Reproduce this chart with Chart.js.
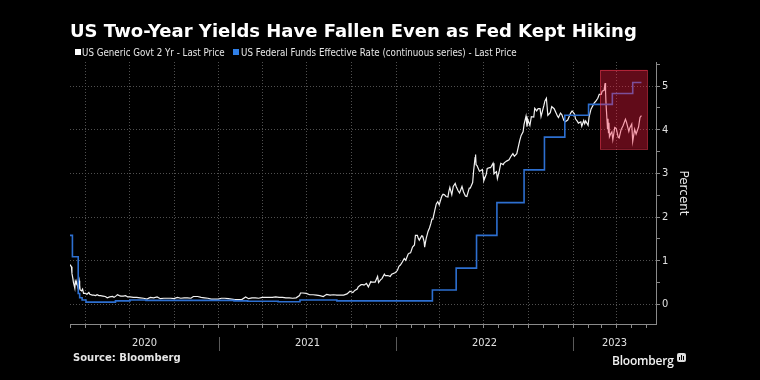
<!DOCTYPE html>
<html>
<head>
<meta charset="utf-8">
<script src="https://cdn.jsdelivr.net/npm/chart.js@4.4.0/dist/chart.umd.min.js"></script>
<style>
  html, body { margin: 0; padding: 0; background: #000; }
  #wrap { position: relative; width: 760px; height: 380px; background: #000; overflow: hidden; }
  #c { position: absolute; left: 0; top: 0; }
  .txt { position: absolute; color: #fff; white-space: nowrap; line-height: 1; }
  #title { left: 70px; top: 20px; font: bold 18px "DejaVu Sans", sans-serif; }
  .leg { top: 47px; font: 9.7px "DejaVu Sans Condensed", "DejaVu Sans", sans-serif; font-stretch: condensed; color: #e6e6e6; }
  .sq { position: absolute; top: 49px; width: 6px; height: 6px; }
  #source { left: 73px; top: 352px; font: bold 10px "DejaVu Sans", sans-serif; color: #e6e6e6; }
  #logo { left: 612px; top: 352px; font: 600 12px "Open Sans", "DejaVu Sans", sans-serif; color: #f2f2f2; letter-spacing: -0.2px; }
  #icon { position: absolute; left: 677px; top: 353px; width: 9px; height: 9px; background: #ddd; border-radius: 2px; }
  #icon span { position: absolute; bottom: 2px; width: 1px; background: #000; }
</style>
</head>
<body>
<div id="wrap">
  <canvas id="c" width="760" height="380"></canvas>
  <div id="title" class="txt">US Two-Year Yields Have Fallen Even as Fed Kept Hiking</div>
  <div class="sq" style="left:75px;background:#ffffff"></div>
  <div class="txt leg" style="left:82px">US Generic Govt 2 Yr - Last Price</div>
  <div class="sq" style="left:233px;background:#2f7fe8"></div>
  <div class="txt leg" style="left:241px">US Federal Funds Effective Rate (continuous series) - Last Price</div>
  <div id="source" class="txt">Source: Bloomberg</div>
  <div id="logo" class="txt">Bloomberg</div>
  <div id="icon"><span style="left:2px;height:3px"></span><span style="left:4px;height:5px"></span><span style="left:6px;height:4px"></span></div>
</div>
<script>
// ---------------- DATA ----------------
const seriesNames = ['US Generic Govt 2 Yr - Last Price', 'US Federal Funds Effective Rate (continuous series) - Last Price'];
const yearLabels = ['2020', '2021', '2022', '2023'];
const axisDateRange = ['2020-02-28', '2023-06-21'];
const highlightDates = ['2023-02-26', '2023-06-03'];
const highlightYields = [3.56, 5.37];

const twoYearDates = [
 '2020-02-28','2020-03-02','2020-03-03','2020-03-05','2020-03-06','2020-03-09','2020-03-10','2020-03-11','2020-03-12','2020-03-13',
 '2020-03-16','2020-03-17','2020-03-18','2020-03-19','2020-03-20','2020-03-23','2020-03-25','2020-03-27','2020-03-31','2020-04-03',
 '2020-04-07','2020-04-09','2020-04-14','2020-04-17','2020-04-21','2020-04-24','2020-04-28','2020-05-01','2020-05-06','2020-05-11',
 '2020-05-15','2020-05-20','2020-05-26','2020-05-29','2020-06-03','2020-06-05','2020-06-09','2020-06-12','2020-06-17','2020-06-22',
 '2020-06-26','2020-07-01','2020-07-08','2020-07-15','2020-07-22','2020-07-29','2020-08-05','2020-08-12','2020-08-19','2020-08-26',
 '2020-09-02','2020-09-09','2020-09-16','2020-09-23','2020-09-30','2020-10-07','2020-10-14','2020-10-21','2020-10-28','2020-11-04',
 '2020-11-09','2020-11-12','2020-11-18','2020-11-25','2020-12-02','2020-12-09','2020-12-16','2020-12-23','2020-12-30',
 '2021-01-06','2021-01-13','2021-01-20','2021-01-27','2021-02-03','2021-02-10','2021-02-17','2021-02-25','2021-03-03','2021-03-10',
 '2021-03-17','2021-03-24','2021-03-31','2021-04-07','2021-04-14','2021-04-21','2021-04-28','2021-05-05','2021-05-12','2021-05-19',
 '2021-05-26','2021-06-02','2021-06-09','2021-06-16','2021-06-18','2021-06-23','2021-06-30','2021-07-07','2021-07-14','2021-07-21',
 '2021-07-28','2021-08-04','2021-08-11','2021-08-18','2021-08-25','2021-09-01','2021-09-08','2021-09-15','2021-09-22','2021-09-28',
 '2021-10-04','2021-10-08','2021-10-13','2021-10-15','2021-10-21','2021-10-25','2021-10-27','2021-11-01','2021-11-05','2021-11-10',
 '2021-11-12','2021-11-17','2021-11-19','2021-11-24','2021-11-26','2021-11-30','2021-12-03','2021-12-08','2021-12-10','2021-12-15',
 '2021-12-20','2021-12-23','2021-12-31',
 '2022-01-04','2022-01-07','2022-01-10','2022-01-14','2022-01-18','2022-01-21','2022-01-26','2022-01-28','2022-01-31','2022-02-04',
 '2022-02-08','2022-02-10','2022-02-14','2022-02-16','2022-02-18','2022-02-23','2022-02-25','2022-02-28','2022-03-01','2022-03-04',
 '2022-03-08','2022-03-11','2022-03-14','2022-03-16','2022-03-18','2022-03-22','2022-03-25','2022-03-28','2022-03-31','2022-04-04',
 '2022-04-06','2022-04-08','2022-04-11','2022-04-14','2022-04-18','2022-04-20','2022-04-22','2022-04-26','2022-04-29','2022-05-03',
 '2022-05-05','2022-05-09','2022-05-12','2022-05-17','2022-05-20','2022-05-24','2022-05-27','2022-06-01','2022-06-03','2022-06-08',
 '2022-06-10','2022-06-13','2022-06-14','2022-06-15','2022-06-17','2022-06-22','2022-06-24','2022-06-28','2022-06-30','2022-07-01',
 '2022-07-06','2022-07-08','2022-07-13','2022-07-15','2022-07-20','2022-07-22','2022-07-27','2022-07-29','2022-08-02','2022-08-05',
 '2022-08-10','2022-08-12','2022-08-17','2022-08-22','2022-08-26','2022-08-30','2022-09-02','2022-09-07','2022-09-13','2022-09-16',
 '2022-09-20','2022-09-22','2022-09-26','2022-09-28','2022-09-30','2022-10-04','2022-10-07','2022-10-12','2022-10-14','2022-10-18',
 '2022-10-21','2022-10-25','2022-10-27','2022-11-02','2022-11-04','2022-11-07','2022-11-10','2022-11-15','2022-11-18','2022-11-23',
 '2022-11-30','2022-12-02','2022-12-06','2022-12-09','2022-12-13','2022-12-16','2022-12-21','2022-12-27','2022-12-30',
 '2023-01-04','2023-01-06','2023-01-10','2023-01-12','2023-01-17','2023-01-19','2023-01-23','2023-01-25','2023-01-27','2023-02-01',
 '2023-02-03','2023-02-07','2023-02-09','2023-02-14','2023-02-16','2023-02-21','2023-02-24','2023-02-28','2023-03-02','2023-03-06',
 '2023-03-08','2023-03-09','2023-03-10','2023-03-13','2023-03-14','2023-03-15','2023-03-16','2023-03-17','2023-03-20','2023-03-22',
 '2023-03-24','2023-03-28','2023-03-31','2023-04-04','2023-04-06','2023-04-10','2023-04-14','2023-04-19','2023-04-21','2023-04-26',
 '2023-04-28','2023-05-02','2023-05-04','2023-05-08','2023-05-11','2023-05-16','2023-05-19','2023-05-22'
];
const twoYearYields = [
 0.91,0.86,0.71,0.59,0.51,0.37,0.53,0.50,0.47,0.49,
 0.36,0.47,0.54,0.44,0.33,0.31,0.35,0.25,0.25,0.23,
 0.27,0.23,0.21,0.21,0.20,0.22,0.20,0.20,0.19,0.18,
 0.15,0.17,0.18,0.16,0.20,0.22,0.20,0.19,0.19,0.20,
 0.17,0.17,0.16,0.16,0.15,0.14,0.12,0.16,0.15,0.17,
 0.13,0.14,0.14,0.14,0.13,0.16,0.14,0.15,0.15,0.14,
 0.18,0.18,0.18,0.16,0.15,0.14,0.12,0.12,0.12,
 0.14,0.14,0.13,0.12,0.11,0.11,0.11,0.17,0.13,0.15,
 0.15,0.14,0.16,0.16,0.16,0.16,0.17,0.16,0.16,0.15,
 0.15,0.14,0.15,0.20,0.26,0.26,0.25,0.22,0.22,0.21,
 0.20,0.18,0.23,0.21,0.22,0.21,0.21,0.21,0.24,0.30,
 0.27,0.32,0.35,0.40,0.45,0.45,0.44,0.48,0.40,0.52,
 0.51,0.51,0.51,0.64,0.50,0.56,0.59,0.69,0.66,0.66,
 0.64,0.69,0.73,
 0.78,0.87,0.90,0.97,1.05,1.01,1.15,1.17,1.18,1.31,
 1.36,1.58,1.58,1.51,1.47,1.57,1.56,1.43,1.31,1.50,
 1.67,1.75,1.86,1.95,1.95,2.16,2.30,2.35,2.28,2.43,
 2.49,2.52,2.51,2.47,2.46,2.59,2.68,2.51,2.70,2.77,
 2.70,2.60,2.55,2.70,2.58,2.48,2.47,2.66,2.66,2.79,
 3.06,3.36,3.43,3.20,3.18,3.05,3.06,3.09,2.92,2.83,
 2.98,3.11,3.13,3.13,3.23,2.99,3.04,2.88,3.06,3.23,
 3.20,3.24,3.28,3.31,3.39,3.45,3.39,3.45,3.75,3.87,
 3.95,4.12,4.31,4.07,4.22,4.10,4.30,4.29,4.49,4.43,
 4.48,4.48,4.30,4.56,4.66,4.72,4.33,4.39,4.53,4.48,
 4.31,4.28,4.38,4.34,4.21,4.18,4.22,4.38,4.43,
 4.36,4.25,4.19,4.15,4.18,4.08,4.21,4.14,4.20,4.10,
 4.29,4.47,4.47,4.62,4.64,4.72,4.81,4.81,4.88,4.90,
 5.07,4.87,4.59,4.03,4.25,3.93,4.16,3.84,3.92,3.95,
 3.77,4.05,4.03,3.83,3.81,4.00,4.09,4.24,4.18,3.96,
 4.04,4.13,3.73,4.01,3.90,4.06,4.28,4.32
];

const fedDates = [
 '2020-02-28','2020-03-04','2020-03-16','2020-03-19','2020-03-24','2020-04-01','2020-06-01','2020-07-01','2020-08-03',
 '2021-02-01','2021-03-01','2021-05-03','2021-06-17','2021-09-01',
 '2022-03-17','2022-05-05','2022-06-16','2022-07-28','2022-09-22','2022-11-03','2022-12-15',
 '2023-02-02','2023-03-23','2023-05-04','2023-05-22'
];
const fedRates = [
 1.58,1.09,0.25,0.15,0.10,0.05,0.08,0.10,0.09,
 0.08,0.07,0.06,0.10,0.08,
 0.33,0.83,1.58,2.33,3.08,3.83,4.33,
 4.58,4.83,5.08,5.08
];

// ---------------- HELPERS ----------------
function toYear(s) {
  const [Y, M, D] = s.split('-').map(Number);
  const t0 = Date.UTC(Y, 0, 1), t1 = Date.UTC(Y + 1, 0, 1);
  return Y + (Date.UTC(Y, M - 1, D) - t0) / (t1 - t0);
}
const xMin = toYear(axisDateRange[0]);
const xMax = toYear(axisDateRange[1]);

const overlayPlugin = {
  id: 'overlay',
  afterDatasetsDraw(chart) {
    const { ctx, scales: { x, y } } = chart;
    const x0 = x.getPixelForValue(toYear(highlightDates[0]));
    const x1 = x.getPixelForValue(toYear(highlightDates[1]));
    const y0 = y.getPixelForValue(highlightYields[1]);
    const y1 = y.getPixelForValue(highlightYields[0]);
    ctx.save();
    ctx.fillStyle = 'rgba(255,29,66,0.38)';
    ctx.fillRect(x0, y0, x1 - x0, y1 - y0);
    ctx.strokeStyle = 'rgba(255,60,85,0.5)';
    ctx.lineWidth = 1;
    ctx.strokeRect(Math.round(x0) + 0.5, Math.round(y0) + 0.5, Math.round(x1 - x0), Math.round(y1 - y0));
    ctx.restore();
  },
  afterDraw(chart) {
    const { ctx, scales: { x }, chartArea } = chart;
    ctx.save();
    ctx.strokeStyle = '#5a5a5a';
    ctx.lineWidth = 1;
    yearLabels.slice(1).forEach(lbl => {
      const px = Math.round(x.getPixelForValue(Number(lbl))) + 0.5;
      ctx.beginPath();
      ctx.moveTo(px, chartArea.bottom + 13);
      ctx.lineTo(px, chartArea.bottom + 27);
      ctx.stroke();
    });
    ctx.restore();
  }
};

const AXIS_FONT = { family: '"DejaVu Sans Condensed", "DejaVu Sans", sans-serif', size: 11 };

new Chart(document.getElementById('c'), {
  type: 'line',
  data: {
    datasets: [
      {
        label: seriesNames[0],
        data: twoYearDates.map((d, i) => ({ x: toYear(d), y: twoYearYields[i] })),
        borderColor: '#f2f2f2',
        borderWidth: 1.2,
        pointRadius: 0,
        tension: 0,
        order: 2
      },
      {
        label: seriesNames[1],
        data: fedDates.map((d, i) => ({ x: toYear(d), y: fedRates[i] })),
        borderColor: '#2d6fd0',
        borderWidth: 1.6,
        pointRadius: 0,
        stepped: 'before',
        order: 1
      }
    ]
  },
  options: {
    responsive: false,
    animation: false,
    devicePixelRatio: 1,
    layout: { padding: { left: 70, right: 66, top: 62, bottom: 16 } },
    plugins: { legend: { display: false }, tooltip: { enabled: false }, title: { display: false } },
    scales: {
      x: {
        type: 'linear',
        min: xMin,
        max: xMax,
        afterFit(scale) { scale.height = 40; },
        afterBuildTicks(scale) {
          const t = [];
          for (let yr = Number(yearLabels[0]); yr <= Number(yearLabels[yearLabels.length - 1]); yr++) {
            for (let m = 0; m < 12; m++) {
              const v = yr + (Date.UTC(yr, m, 1) - Date.UTC(yr, 0, 1)) / (Date.UTC(yr + 1, 0, 1) - Date.UTC(yr, 0, 1));
              if (v >= scale.min && v <= scale.max) t.push({ value: v, kind: m % 3 === 0 ? 'q' : 'm', txt: '' });
            }
          }
          yearLabels.forEach(lbl => {
            const a = Math.max(Number(lbl), scale.min), b = Math.min(Number(lbl) + 1, scale.max);
            t.push({ value: (a + b) / 2, kind: 'y', txt: lbl });
          });
          t.sort((p, q) => p.value - q.value);
          scale.ticks = t;
        },
        ticks: {
          autoSkip: false, maxRotation: 0, minRotation: 0, padding: 9,
          color: '#e0e0e0', font: AXIS_FONT,
          callback: (v, i, ticks) => ticks[i].txt
        },
        grid: {
          drawOnChartArea: true,
          drawTicks: true,
          tickLength: 4,
          lineWidth: 1,
          color: (c) => (c.tick && c.tick.kind === 'q') ? '#505050' : 'rgba(0,0,0,0)',
          tickColor: (c) => (c.tick && c.tick.kind !== 'y') ? '#8a8a8a' : 'rgba(0,0,0,0)'
        },
        border: { display: true, color: '#8a8a8a', width: 1, dash: [1, 2] }
      },
      y: {
        type: 'linear',
        position: 'right',
        min: -0.45,
        max: 5.55,
        afterFit(scale) { scale.width = 38; },
        afterBuildTicks(scale) {
          const t = [];
          for (let v = 0; v <= scale.max; v += 0.5) t.push({ value: v, major: Number.isInteger(v) });
          scale.ticks = t;
        },
        ticks: {
          padding: 2, color: '#e0e0e0', font: AXIS_FONT,
          callback: (v) => Number.isInteger(v) ? String(v) : ''
        },
        grid: {
          tickLength: 4,
          color: (c) => (c.tick && Number.isInteger(c.tick.value)) ? '#505050' : 'rgba(0,0,0,0)',
          tickColor: '#8a8a8a'
        },
        border: { display: true, color: '#8a8a8a', width: 1, dash: [1, 2] },
        title: {
          display: true, text: 'Percent', color: '#e6e6e6',
          font: { family: '"DejaVu Sans", sans-serif', size: 12 },
          padding: { top: 4, bottom: 4 }
        }
      }
    }
  },
  plugins: [overlayPlugin]
});
</script>
</body>
</html>
